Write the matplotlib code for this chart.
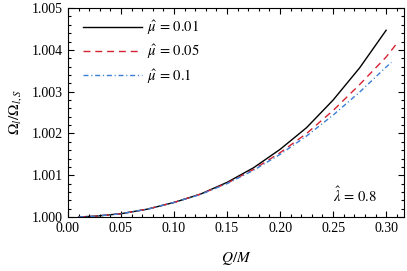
import matplotlib
matplotlib.use('Agg')
import matplotlib.pyplot as plt
from matplotlib.ticker import MultipleLocator, FormatStrFormatter

plt.rcParams['font.family'] = ['Liberation Serif', 'DejaVu Serif']
plt.rcParams['mathtext.fontset'] = 'stix'
plt.rcParams['font.size'] = 10

# values (ratio - 1, in units of 1e-3)
q_black = [0.01, 0.025, 0.05, 0.075, 0.10, 0.125, 0.15, 0.175, 0.20, 0.225, 0.25, 0.275, 0.30]
v_black = [0.003, 0.02, 0.08, 0.19, 0.35, 0.55, 0.83, 1.18, 1.62, 2.14, 2.80, 3.57, 4.47]

q_red = [0.01, 0.025, 0.05, 0.075, 0.10, 0.125, 0.15, 0.175, 0.20, 0.225, 0.25, 0.275, 0.30, 0.309]
v_red = [0.003, 0.02, 0.08, 0.19, 0.35, 0.55, 0.81, 1.14, 1.54, 2.00, 2.55, 3.17, 3.83, 4.12]

q_blue = [0.01, 0.025, 0.05, 0.075, 0.10, 0.125, 0.15, 0.175, 0.20, 0.225, 0.25, 0.275, 0.30, 0.305]
v_blue = [0.003, 0.02, 0.08, 0.19, 0.35, 0.54, 0.80, 1.12, 1.50, 1.94, 2.44, 2.99, 3.59, 3.70]

labels = [r'$\hat{\mu}\,=\,0.01$', r'$\hat{\mu}\,=\,0.05$', r'$\hat{\mu}\,=\,0.1$']

fig = plt.figure(figsize=(4.07, 2.71), dpi=100)
ax = fig.add_axes([0.167, 0.199, 0.826, 0.771])

ax.plot(q_black, [1 + v / 1000 for v in v_black], color='black', lw=1.0, label=labels[0])
ax.plot(q_red, [1 + v / 1000 for v in v_red], color='#d42230', lw=1.0,
        dashes=(5, 3.5), label=labels[1])
ax.plot(q_blue, [1 + v / 1000 for v in v_blue], color='#3a7fd5', lw=1.0,
        dashes=(3.6, 2, 0.8, 2), label=labels[2])

ax.set_xlim(0, 0.317)
ax.set_ylim(1.000, 1.005)
ax.xaxis.set_major_locator(MultipleLocator(0.05))
ax.xaxis.set_minor_locator(MultipleLocator(0.01))
ax.yaxis.set_major_locator(MultipleLocator(0.001))
ax.yaxis.set_minor_locator(MultipleLocator(0.0002))
ax.xaxis.set_major_formatter(FormatStrFormatter('%.2f'))
ax.yaxis.set_major_formatter(FormatStrFormatter('%.3f'))
ax.tick_params(which='both', direction='in', top=True, right=True, width=0.8)
ax.tick_params(which='major', length=4)
ax.tick_params(which='minor', length=2)

ax.set_xlabel(r'$Q/M$', labelpad=11, fontsize=11)
ax.set_ylabel(r'$\Omega_l/\Omega_{l,S}$', labelpad=6, fontsize=11)

ax.legend(loc='upper left', bbox_to_anchor=(0.015, 1.0), frameon=False,
          handlelength=4.0, handletextpad=0.4, labelspacing=0.42,
          borderaxespad=0.3, borderpad=0.4, fontsize=10.5)
ax.text(0.92, 0.105, r'$\hat{\lambda}\,=\,0.8$', transform=ax.transAxes,
        ha='right', va='center', fontsize=10.5)

fig.savefig('out.png', dpi=100)
